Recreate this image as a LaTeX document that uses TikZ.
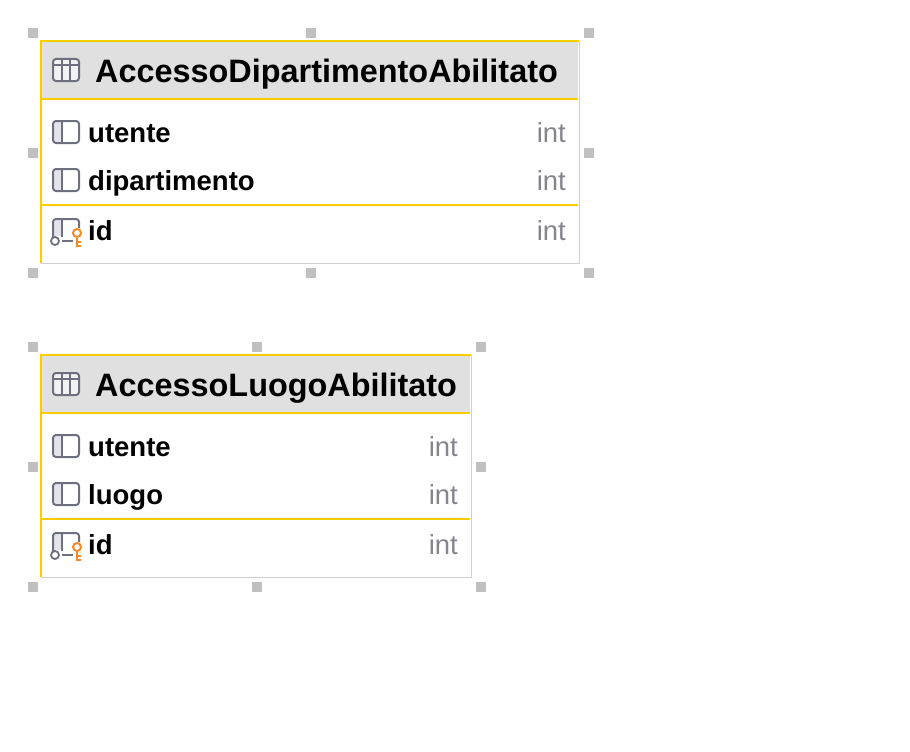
\documentclass[tikz,border=0pt]{standalone}
\usepackage{fontspec}
\setmainfont{Liberation Sans}
\usepackage{xcolor}
\usetikzlibrary{calc,positioning}
\definecolor{goldx}{HTML}{FFCC00}
\definecolor{headbg}{HTML}{E0E0E0}
\definecolor{iconx}{HTML}{6E7080}
\definecolor{iconbg}{HTML}{E4E5EC}
\definecolor{keyx}{HTML}{F28C28}
\definecolor{intx}{HTML}{85858F}
\definecolor{handlex}{HTML}{C0C0C0}
\definecolor{edgex}{HTML}{D0D0D0}
\tikzset{
  hnd/.style={fill=handlex,minimum size=10pt,inner sep=0pt},
  gold/.style={draw=goldx,line width=2pt},
  ttl/.style={anchor=base west,inner sep=0pt,font=\fontsize{32.4}{33}\selectfont\bfseries,text=black},
  fld/.style={anchor=base west,inner sep=0pt,font=\fontsize{27.5}{28}\selectfont\bfseries,text=black},
  typ/.style={anchor=base east,inner sep=0pt,font=\fontsize{27.5}{28}\selectfont,text=intx},
  ic/.style={draw=iconx,line width=2pt,rounded corners=3pt}
}
% eight handles round a table: prefix, left, top, right, bottom
\newcommand{\hnds}[5]{%
  \node[hnd] (#1nw) at (#2,#3) {};
  \node[hnd] (#1n) at ({(#2+#4)/2},#3) {};
  \node[hnd] (#1ne) at (#4,#3) {};
  \node[hnd] (#1w) at (#2,{(#3+#5)/2}) {};
  \node[hnd] (#1e) at (#4,{(#3+#5)/2}) {};
  \node[hnd] (#1sw) at (#2,#5) {};
  \node[hnd] (#1s) at ({(#2+#4)/2},#5) {};
  \node[hnd] (#1se) at (#4,#5) {};}
% column icon: centre y
\newcommand{\colic}[1]{%
  \fill[iconbg,rounded corners=3pt] (53,#1-11)--(62,#1-11)--(62,#1+11)--(53,#1+11)--cycle;
  \draw[ic] (53,#1-11) rectangle (79,#1+11);
  \draw[iconx,line width=2pt] (62,#1-11)--(62,#1+11);}
% primary key icon: centre y
\newcommand{\keyic}[1]{%
  \fill[iconbg] (54,#1-11) rectangle (62,#1+5);
  \draw[ic] (53,#1+6)--(53,#1-12)--(79,#1-12)--(79,#1-3);
  \draw[iconx,line width=2pt] (62,#1-12)--(62,#1+6);
  \draw[iconx,line width=2pt] (62,#1+10)--(73,#1+10);
  \draw[iconx,line width=1.8pt] (55,#1+10) circle (4pt);
  \draw[keyx,line width=2pt] (77,#1+2) circle (4pt);
  \draw[keyx,line width=2pt] (77,#1+6)--(77,#1+15)--(81,#1+15);
  \draw[keyx,line width=2pt] (77,#1+11)--(81,#1+11);}
% one table: prefix, top, right edge, title, first field, second field
\newcommand{\tbl}[6]{%
  \fill[headbg] (41,#2) rectangle (#3-1,#2+58);
  \draw[edgex,line width=1pt] (#3,#2) -- (#3,#2+222) -- (41,#2+222);
  \draw[gold] (41,#2+222) -- (41,#2) -- (#3,#2);
  \draw[gold] (41,#2+58) -- (#3-1,#2+58);
  \draw[gold] (41,#2+164) -- (#3-1,#2+164);
  \draw[ic,fill=iconbg!50] (53,#2+18) rectangle (79,#2+40);
  \draw[iconx,line width=1.6pt] (53,#2+24)--(79,#2+24) (62,#2+18)--(62,#2+40) (70,#2+18)--(70,#2+40);
  \node[ttl] (#1title) at (95,#2+41) {#4};
  \colic{#2+91}
  \node[fld] (#1a) at (88,#2+101) {#5};
  \node[typ] (#1aint) at (#3-13,#2+101) {int};
  \colic{#2+139}
  \node[fld] (#1b) at (88,#2+149) {#6};
  \node[typ] (#1bint) at (#3-13,#2+149) {int};
  \keyic{#2+190}
  \node[fld] (#1id) at (88,#2+199) {id};
  \node[typ] (#1idint) at (#3-13,#2+199) {int};}

\begin{document}
\begin{tikzpicture}[x=1pt,y=-1pt]
\useasboundingbox (0,0) rectangle (910,752);
\hnds{dh}{33}{33}{589}{273}
\hnds{lh}{33}{347}{481}{587}
\tbl{dp}{41}{579}{AccessoDipartimentoAbilitato}{utente}{dipartimento}
\tbl{lg}{355}{471}{AccessoLuogoAbilitato}{utente}{luogo}
\end{tikzpicture}
\end{document}
